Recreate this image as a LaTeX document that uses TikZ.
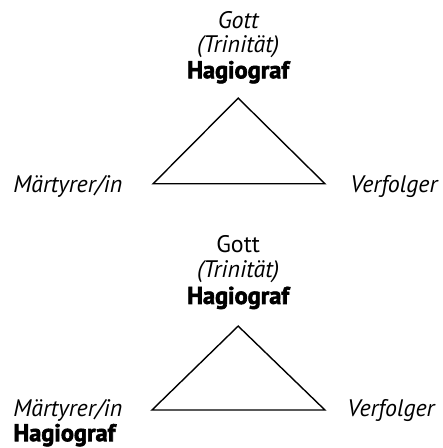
\documentclass[tikz,border=0pt]{standalone}
\usepackage{fontspec}
\setmainfont{PT Sans}
\newfontfamily\heavyfont[FakeBold=2.5]{PT Sans Bold}
\usepackage{tikz}

\begin{document}
\begin{tikzpicture}[every node/.style={inner sep=0pt,font=\fontsize{12}{14}\selectfont},
    role/.style={anchor=base west,font=\fontsize{12}{14}\selectfont\itshape},
    title/.style={anchor=base},
    heavy/.style={font=\fontsize{12.2}{14}\selectfont\heavyfont}]
    \useasboundingbox (0,0) rectangle (7.81,-7.90);

	% upper triangle
	\coordinate (top1) at (4.20,-1.73);
	\coordinate (left1) at (2.70,-3.24);
	\coordinate (right1) at (5.73,-3.24);

	\node[title,font=\fontsize{12}{14}\selectfont\itshape] (gott1) at (4.20,-0.51) {Gott};
	\node[title,font=\fontsize{12}{14}\selectfont\itshape] (trin1) at (4.20,-0.92) {(Trinität)};
	\node[title,heavy] (hagio1) at (4.20,-1.38) {Hagiograf};
	\node[role] (mart1) at (0.23,-3.39) {Märtyrer/in};
	\node[role] (verf1) at (6.17,-3.39) {Verfolger};

	\draw[line width=0.7pt,line join=miter] (top1) -- (right1) -- (left1) -- cycle;

	% lower triangle
	\coordinate (top2) at (4.20,-5.75);
	\coordinate (left2) at (2.68,-7.23);
	\coordinate (right2) at (5.73,-7.23);

	\node[title] (gott2) at (4.20,-4.46) {Gott};
	\node[title,font=\fontsize{12}{14}\selectfont\itshape] (trin2) at (4.20,-4.89) {(Trinität)};
	\node[title,heavy] (hagio2) at (4.20,-5.36) {Hagiograf};
	\node[role] (mart2) at (0.23,-7.35) {Märtyrer/in};
	\node[anchor=base west,heavy] (hagio3) at (0.23,-7.78) {Hagiograf};
	\node[role] (verf2) at (6.12,-7.35) {Verfolger};

	\draw[line width=0.7pt,line join=miter] (top2) -- (right2) -- (left2) -- cycle;
\end{tikzpicture}
\end{document}
